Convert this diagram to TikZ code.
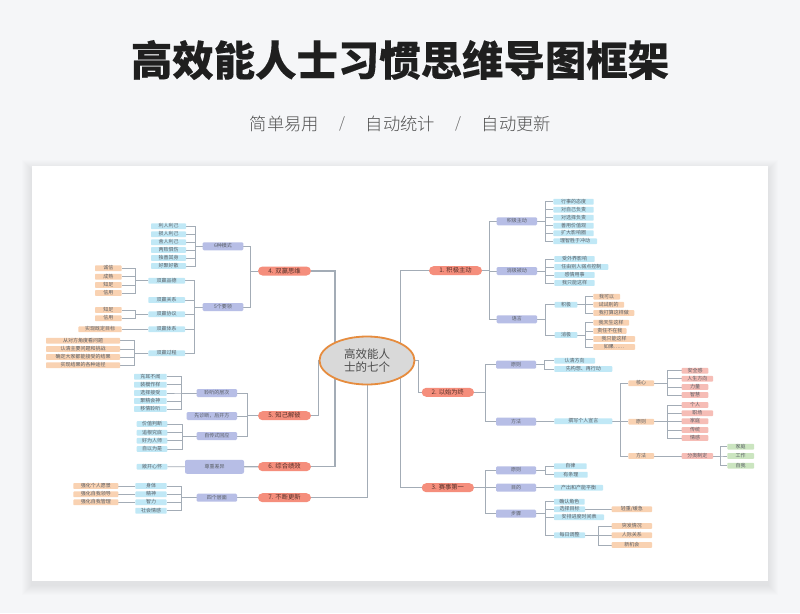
\documentclass[tikz,border=0pt]{standalone}
\usepackage{fontspec}
\setmainfont{Noto Sans CJK SC}
\newfontfamily\titlefont{Noto Sans CJK SC}[BoldFeatures={FakeBold=0.25}]
\newfontfamily\lightfont{Noto Sans CJK SC}[UprightFont=* Light]
\usetikzlibrary{shapes.geometric,calc}
\definecolor{pagebg}{HTML}{F5F6F8}
\definecolor{linkc}{HTML}{A3ACB6}
\definecolor{inkc}{HTML}{5A5F66}
\definecolor{salmon}{HTML}{F58E7C}
\definecolor{peri}{HTML}{B7BEE6}
\definecolor{skyc}{HTML}{C0E8F6}
\definecolor{peach}{HTML}{F9D2B2}
\definecolor{pinkc}{HTML}{F6BDB6}
\definecolor{greenc}{HTML}{CBE5C0}
\pgfdeclarelayer{bglayer}\pgfdeclarelayer{edges}
\pgfsetlayers{bglayer,edges,main}
\tikzset{
 box/.style={inner sep=0pt,outer sep=0pt,text height=4.5pt,text depth=1.3pt,minimum height=5.8pt,rounded corners=.8pt,text=inkc,font=\fontsize{5}{6}\selectfont},
 lone/.style={box,fill=salmon,text height=5.4pt,text depth=1.4pt,minimum height=9pt,rounded corners=4.5pt,text=black!65!salmon,font=\fontsize{6.3}{7}\selectfont},
 ltwo/.style={box,fill=peri,minimum height=8pt,rounded corners=1.2pt},
 leaf/.style={box,fill=skyc},
 peachbox/.style={box,fill=peach},
 pinkbox/.style={box,fill=pinkc},
 greenbox/.style={box,fill=greenc},
 link/.style={draw=linkc,line width=.8pt},
 thick link/.style={draw=linkc,line width=1.1pt},
}
% name, style, x1, x2, y, text
\newcommand{\nd}[6]{\node[#2,minimum width={(#4-#3)*1pt}] (#1) at ({(#3+#4)/2},#5) {#6};}
% parent, spine x, children : children on the left
\newcommand{\fanL}[3]{\foreach \c in {#3}{\coordinate (sp) at (#2,0); \draw[link] (#1.west) -- (sp |- #1.west) |- (\c.east);}}
% parent, spine x, children : children on the right
\newcommand{\fanR}[3]{\foreach \c in {#3}{\coordinate (sp) at (#2,0); \draw[link] (#1.east) -- (sp |- #1.east) |- (\c.west);}}
\begin{document}
\begin{tikzpicture}[x=1pt,y=-1pt]
\useasboundingbox (0,0) rectangle (800,613);
\begin{pgfonlayer}{bglayer}
\fill[pagebg] (0,0) rectangle (800,613);
\foreach \s in {1,2,...,10}{\fill[black,opacity=.006] (32-\s,166-\s+4) rectangle (768+\s,581+\s+4);}
\fill[white] (32,166) rectangle (768,581);
\end{pgfonlayer}

\node[font=\fontsize{41.4}{44}\selectfont\titlefont\bfseries,text=black!88,inner sep=0pt] (title) at (400,60) {高效能人士习惯思维导图框架};
\node[font=\fontsize{17.3}{20}\selectfont\lightfont,text=black!68,inner sep=0pt] (s1) at (284.5,124) {简单易用};
\node[font=\fontsize{15}{20}\selectfont\lightfont,text=black!60,inner sep=0pt] (sl1) at (342,124) {/};
\node[font=\fontsize{17.3}{20}\selectfont\lightfont,text=black!68,inner sep=0pt] (s2) at (400.5,124) {自动统计};
\node[font=\fontsize{15}{20}\selectfont\lightfont,text=black!60,inner sep=0pt] (sl2) at (458,124) {/};
\node[font=\fontsize{17.3}{20}\selectfont\lightfont,text=black!68,inner sep=0pt] (s3) at (516.5,124) {自动更新};

\node[ellipse,draw={rgb,255:red,230;green,140;blue,62},line width=1.8pt,fill=black!15,minimum width=95pt,minimum height=48pt,inner sep=0pt,align=center,text=black!70,font=\fontsize{11.5}{12.7}\selectfont] (c) at (367,360.5) {高效能人\\士的七个};

% level 1
\nd{n1}{lone}{429}{482}{270.7}{1. 积极主动}
\nd{n2}{lone}{421.7}{474}{392.3}{2. 以始为终}
\nd{n3}{lone}{421.7}{474}{487.7}{3. 赛事第一}
\nd{n4}{lone}{258}{311}{271}{4. 双赢思维}
\nd{n5}{lone}{258}{311}{415.7}{5. 知己解彼}
\nd{n6}{lone}{258}{311}{466.7}{6. 综合绩效}
\nd{n7}{lone}{258}{311}{497.7}{7. 不断更新}

% left upper
\nd{m6}{ltwo}{202.7}{243.3}{246.3}{6种模式}
\nd{y5}{ltwo}{202.7}{243.3}{307}{5个要领}
\nd{a1}{leaf}{151}{186}{226.3}{利人利己}
\nd{a2}{leaf}{151}{186}{234.3}{损人利己}
\nd{a3}{leaf}{151}{186}{242.3}{舍人利己}
\nd{a4}{leaf}{151}{186}{250}{两败俱伤}
\nd{a5}{leaf}{151}{186}{258}{独善其身}
\nd{a6}{leaf}{151}{186}{266}{好聚好散}
\nd{b1}{leaf}{148.3}{185}{280.7}{双赢品德}
\nd{b2}{leaf}{148.3}{185}{300}{双赢关系}
\nd{b3}{leaf}{148.3}{185}{314.3}{双赢协议}
\nd{b4}{leaf}{148.3}{185}{329.3}{双赢体系}
\nd{b5}{leaf}{148.3}{185}{353.3}{双赢过程}
\nd{d1}{peachbox}{95}{121.7}{268.3}{诚信}
\nd{d2}{peachbox}{95}{121.7}{276.7}{成熟}
\nd{d3}{peachbox}{95}{121.7}{285}{知足}
\nd{d4}{peachbox}{95}{121.7}{293}{信用}
\nd{e1}{peachbox}{95}{121.7}{310}{知足}
\nd{e2}{peachbox}{95}{121.7}{318.3}{信用}
\nd{f1}{peachbox}{78.3}{121.7}{329.3}{实现既定目标}
\nd{g1}{peachbox}{46}{120}{340.7}{从对方角度看问题}
\nd{g2}{peachbox}{46}{120}{349}{认清主要问题和挑战}
\nd{g3}{peachbox}{46}{120}{357}{确定大家都能接受的结果}
\nd{g4}{peachbox}{46}{120}{365.3}{实现结果的各种途径}

% left lower
\nd{h1}{ltwo}{196.7}{237}{393}{聆听的层次}
\nd{h2}{ltwo}{186.7}{237}{416}{先诊断，后开方}
\nd{h3}{ltwo}{196.7}{237}{436}{自传式回应}
\nd{h4}{ltwo,minimum height=14pt,rounded corners=2pt}{185}{244}{466.8}{尊重差异}
\nd{h5}{ltwo}{196.7}{237}{497.7}{四个层面}
\nd{i1}{leaf}{134}{166.7}{376.7}{充耳不闻}
\nd{i2}{leaf}{134}{166.7}{384.7}{装模作样}
\nd{i3}{leaf}{134}{166.7}{393}{选择接受}
\nd{i4}{leaf}{134}{166.7}{401}{聚精会神}
\nd{i5}{leaf}{134}{166.7}{409}{移情聆听}
\nd{j1}{leaf}{136.7}{167.3}{424}{价值判断}
\nd{j2}{leaf}{136.7}{167.3}{432.7}{追根究底}
\nd{j3}{leaf}{136.7}{167.3}{440.7}{好为人师}
\nd{j4}{leaf}{136.7}{167.3}{449}{自以为是}
\nd{k1}{leaf}{136.7}{167.3}{466.7}{敞开心怀}
\nd{l1}{leaf}{135.3}{166.7}{486}{身体}
\nd{l2}{leaf}{135.3}{166.7}{494.3}{精神}
\nd{l3}{leaf}{135.3}{166.7}{502.3}{智力}
\nd{l4}{leaf}{135.3}{166.7}{510.7}{社会情感}
\nd{o1}{peachbox}{73.3}{118.3}{486}{强化个人愿景}
\nd{o2}{peachbox}{73.3}{118.3}{494.3}{强化自我领导}
\nd{o3}{peachbox}{73.3}{118.3}{502.3}{强化自我管理}

% right 1
\nd{p1}{ltwo}{496.7}{537}{221.3}{积极主动}
\nd{p2}{ltwo}{496.7}{537}{271}{消极被动}
\nd{p3}{ltwo}{496.7}{537}{319.3}{语言}
\nd{q1}{leaf}{553.3}{593.7}{201.7}{行事的态度}
\nd{q2}{leaf}{553.3}{593.7}{209.7}{对自己负责}
\nd{q3}{leaf}{553.3}{593.7}{217.7}{对选择负责}
\nd{q4}{leaf}{553.3}{593.7}{225.7}{善用价值观}
\nd{q5}{leaf}{553.3}{593.7}{233.3}{扩大影响圈}
\nd{q6}{leaf}{553.3}{597}{241.3}{理智胜于冲动}
\nd{r1}{leaf}{554.3}{594.7}{259}{受外界影响}
\nd{r2}{leaf}{554.3}{608.3}{267}{任由别人弱点控制}
\nd{r3}{leaf}{554.3}{594.7}{275}{感情用事}
\nd{r4}{leaf}{554.3}{594.7}{283}{我只能这样}
\nd{s5}{leaf}{554.7}{577.3}{304.7}{积极}
\nd{s6}{leaf}{554.7}{577.3}{335}{消极}
\nd{t1}{peachbox}{593.3}{620}{296.7}{我可以}
\nd{t2}{peachbox}{593.3}{624}{304.7}{试试别的}
\nd{t3}{peachbox}{593.3}{634.3}{313}{我打算这样做}
\nd{u1}{peachbox}{593.3}{629}{322.7}{我天生这样}
\nd{u2}{peachbox}{593.3}{626.5}{331}{责任不在我}
\nd{u3}{peachbox}{593.3}{635}{339}{我只能这样}
\nd{u4}{peachbox}{593.3}{635}{347}{如果……}

% right 2
\nd{v1}{ltwo}{496}{536}{364.7}{原则}
\nd{v2}{ltwo}{496}{536}{421.7}{方法}
\nd{w1}{leaf}{554.3}{595}{360.7}{认清方向}
\nd{w2}{leaf}{554.3}{612.3}{369}{先构想、再行动}
\nd{w3}{leaf}{554.3}{612.3}{421.3}{撰写个人宣言}
\nd{x1}{peachbox}{628.3}{654}{383.3}{核心}
\nd{x2}{peachbox}{628.3}{654}{421.7}{原则}
\nd{x3}{peachbox}{628.3}{654}{456}{方法}
\nd{z1}{pinkbox}{681.7}{708.3}{370.7}{安全感}
\nd{z2}{pinkbox}{681.7}{713}{378.7}{人生方向}
\nd{z3}{pinkbox}{681.7}{708.3}{387}{力量}
\nd{z4}{pinkbox}{681.7}{708.3}{395}{智慧}
\nd{z5}{pinkbox}{681.7}{708.3}{405}{个人}
\nd{z6}{pinkbox}{681.7}{713}{413.3}{职场}
\nd{z7}{pinkbox}{681.7}{708.3}{421.3}{家庭}
\nd{z8}{pinkbox}{681.7}{708.3}{430}{传统}
\nd{z9}{pinkbox}{681.7}{708.3}{438}{情感}
\nd{z0}{pinkbox}{681.7}{713}{456}{分类制定}
\nd{g5}{greenbox}{727.3}{754}{446.7}{家庭}
\nd{g6}{greenbox}{727.3}{754}{456}{工作}
\nd{g7}{greenbox}{727.3}{754}{465.7}{自我}

% right 3
\nd{aa}{ltwo}{496}{536}{470.3}{原则}
\nd{ab}{ltwo}{496}{536}{487.7}{目的}
\nd{ac}{ltwo}{496}{536}{513.7}{步骤}
\nd{ad}{leaf}{554}{586.7}{466.3}{自律}
\nd{ae}{leaf}{554}{587.7}{474.7}{有条理}
\nd{af}{leaf}{554}{603}{487.7}{产出和产能平衡}
\nd{ag}{leaf}{554}{584.7}{501.7}{确认角色}
\nd{ah}{leaf}{554}{585}{509.3}{选择目标}
\nd{ai}{leaf}{554}{604}{517.3}{安排进度时间表}
\nd{aj}{leaf}{554}{585}{535.3}{每日调整}
\nd{ak}{peachbox}{611.7}{652}{509.3}{轻重/缓急}
\nd{al}{peachbox}{611.7}{652}{526}{突发情况}
\nd{am}{peachbox}{611.7}{652}{535.3}{人际关系}
\nd{an}{peachbox}{611.7}{652}{545}{新机会}

\begin{pgfonlayer}{edges}
% centre to level 1
\draw[thick link] (n4.east) -| ($(c.center)+(-32,0)$);
\draw[thick link] (n5.east) -- (318.7,415.7) |- (c.center);
\draw[thick link] (n6.east) -| ($(c.center)+(-32,0)$);
\draw[thick link] (n7.east) -| ($(c.center)+(.7,0)$);
\draw[thick link] (n1.west) -| ($(c.center)+(33.7,0)$);
\draw[thick link] (n2.west) -- (418.3,392.3) |- (c.center);
\draw[thick link] (n3.west) -| ($(c.center)+(33.7,0)$);
% level 1 to level 2
\fanL{n4}{250.7}{m6,y5}
\fanL{n5}{247.7}{h1,h2,h3}
\draw[thick link] (n6) -- (h4);
\draw[thick link] (n7) -- (h5);
\fanR{n1}{489.7}{p1,p2,p3}
\fanR{n2}{485}{v1,v2}
\fanR{n3}{485}{aa,ab,ac}
% left
\fanL{m6}{195}{a1,a2,a3,a4,a5,a6}
\fanL{y5}{194}{b1,b2,b3,b4,b5}
\fanL{b1}{135.3}{d1,d2,d3,d4}
\fanL{b3}{135.3}{e1,e2}
\draw[link] (b4) -- (f1);
\fanL{b5}{134.3}{g1,g2,g3,g4}
\fanL{h1}{181.7}{i1,i2,i3,i4,i5}
\fanL{h3}{182.3}{j1,j2,j3,j4}
\draw[link] (h4) -- (k1);
\fanL{h5}{181.7}{l1,l2,l3,l4}
\draw[link] (l1) -- (o1);
\draw[link] (l2) -- (o2);
\draw[link] (l3) -- (o3);
% right
\fanR{p1}{545.3}{q1,q2,q3,q4,q5,q6}
\fanR{p2}{545.3}{r1,r2,r3,r4}
\fanR{p3}{545.3}{s5,s6}
\fanR{s5}{585.3}{t1,t2,t3}
\fanR{s6}{585.3}{u1,u2,u3,u4}
\fanR{v1}{544.7}{w1,w2}
\draw[link] (v2) -- (w3);
\fanR{w3}{620.7}{x1,x2,x3}
\fanR{x1}{667.7}{z1,z2,z3,z4}
\fanR{x2}{667.7}{z5,z6,z7,z8,z9}
\draw[link] (x3) -- (z0);
\fanR{z0}{720}{g5,g6,g7}
\fanR{aa}{545}{ad,ae}
\draw[link] (ab) -- (af);
\fanR{ac}{545}{ag,ah,ai,aj}
\draw[link] (ah) -- (ak);
\fanR{aj}{598.3}{al,am,an}
\end{pgfonlayer}
\end{tikzpicture}
\end{document}
